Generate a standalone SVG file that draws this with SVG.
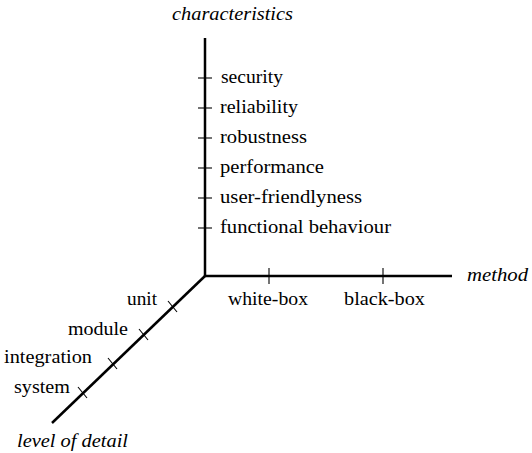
<svg xmlns="http://www.w3.org/2000/svg" width="532" height="453" viewBox="0 0 532 453" font-family="Liberation Serif, DejaVu Serif, serif" font-size="19">
<style>
  .it { font-style: italic; }
  .axis { stroke: #000; stroke-width: 2.5; fill: none; stroke-linecap: butt; }
  .tick { stroke: #000; stroke-width: 1.1; fill: none; }
</style>
<rect x="0" y="0" width="532" height="453" fill="#fff"/>
<g id="connectors">
  <line class="axis" x1="205" y1="38" x2="205" y2="276"/>
  <line class="axis" x1="204" y1="276" x2="452" y2="276"/>
  <line class="axis" x1="205" y1="276" x2="52" y2="423" stroke-width="3"/>
</g>
<g id="axis-characteristics">
  <text class="it" font-family="Liberation Serif, serif" x="172" y="20" textLength="121" lengthAdjust="spacingAndGlyphs">characteristics</text>
</g>
<g id="axis-method">
  <text class="it" font-family="Liberation Serif, serif" x="467" y="281" textLength="61" lengthAdjust="spacingAndGlyphs">method</text>
</g>
<g id="axis-level">
  <text class="it" font-family="Liberation Serif, serif" x="17" y="447" textLength="111" lengthAdjust="spacingAndGlyphs">level of detail</text>
</g>
<g id="char-security">
  <line class="tick" x1="198" y1="78" x2="212" y2="78"/>
  <text font-family="Liberation Serif, serif" x="221" y="83" textLength="62" lengthAdjust="spacingAndGlyphs">security</text>
</g>
<g id="char-reliability">
  <line class="tick" x1="198" y1="108" x2="212" y2="108"/>
  <text font-family="Liberation Serif, serif" x="220" y="113" textLength="78" lengthAdjust="spacingAndGlyphs">reliability</text>
</g>
<g id="char-robustness">
  <line class="tick" x1="198" y1="138" x2="212" y2="138"/>
  <text font-family="Liberation Serif, serif" x="220" y="143" textLength="87" lengthAdjust="spacingAndGlyphs">robustness</text>
</g>
<g id="char-performance">
  <line class="tick" x1="198" y1="168" x2="212" y2="168"/>
  <text font-family="Liberation Serif, serif" x="220" y="173" textLength="104" lengthAdjust="spacingAndGlyphs">performance</text>
</g>
<g id="char-user-friendlyness">
  <line class="tick" x1="198" y1="198" x2="212" y2="198"/>
  <text font-family="Liberation Serif, serif" x="220" y="203" textLength="142" lengthAdjust="spacingAndGlyphs">user-friendlyness</text>
</g>
<g id="char-functional">
  <line class="tick" x1="198" y1="228" x2="212" y2="228"/>
  <text font-family="Liberation Serif, serif" x="220" y="233" textLength="171" lengthAdjust="spacingAndGlyphs">functional behaviour</text>
</g>
<g id="method-white-box">
  <line class="tick" x1="269" y1="268" x2="269" y2="284"/>
  <text font-family="Liberation Serif, serif" x="228" y="305" textLength="80" lengthAdjust="spacingAndGlyphs">white-box</text>
</g>
<g id="method-black-box">
  <line class="tick" x1="383" y1="268" x2="383" y2="284"/>
  <text font-family="Liberation Serif, serif" x="344" y="305" textLength="81" lengthAdjust="spacingAndGlyphs">black-box</text>
</g>
<g id="level-unit">
  <line class="tick" x1="168" y1="301" x2="177" y2="312"/>
  <text font-family="Liberation Serif, serif" x="127" y="305" textLength="30" lengthAdjust="spacingAndGlyphs">unit</text>
</g>
<g id="level-module">
  <line class="tick" x1="139" y1="329" x2="148" y2="340"/>
  <text font-family="Liberation Serif, serif" x="68" y="335" textLength="60" lengthAdjust="spacingAndGlyphs">module</text>
</g>
<g id="level-integration">
  <line class="tick" x1="108" y1="358" x2="117" y2="369"/>
  <text font-family="Liberation Serif, serif" x="4" y="363" textLength="88" lengthAdjust="spacingAndGlyphs">integration</text>
</g>
<g id="level-system">
  <line class="tick" x1="78" y1="387" x2="87" y2="398"/>
  <text font-family="Liberation Serif, serif" x="14" y="393" textLength="56" lengthAdjust="spacingAndGlyphs">system</text>
</g>
</svg>
